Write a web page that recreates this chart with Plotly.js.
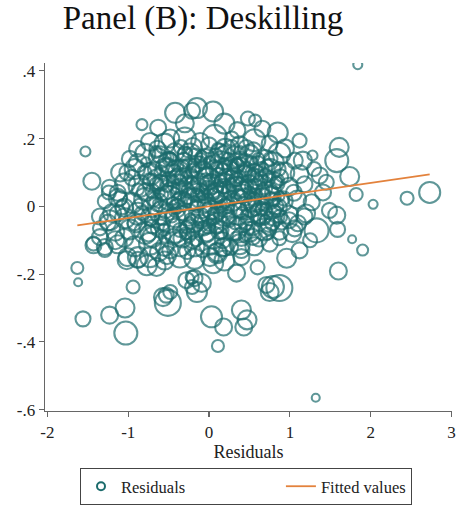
<!DOCTYPE html>
<html><head><meta charset="utf-8">
<script src="https://cdn.plot.ly/plotly-3.0.1.min.js"></script>
<style>html,body{margin:0;padding:0;background:#fff}#chart{width:456px;height:506px}</style>
</head><body><div id="chart"></div>
<script>
// Residual (x) values
const resX = [
 1.84,1.32,-1.53,-1.45,-1.63,-1.62,-1.56,-1.23,-1.04,-1.03,
 -0.94,-0.51,-0.53,-0.21,-0.09,-0.15,0.03,0.18,0.11,0.34,
 0.40,0.47,0.43,0.79,0.75,0.87,0.96,1.60,1.77,1.90,
 1.61,1.58,1.74,1.45,1.82,2.03,2.45,2.73,1.49,1.58,1.59,
 -0.42,-0.21,-0.15,0.05,0.19,0.48,0.28,0.66,0.85,-0.63,-0.83,-0.48,-0.89,0.57,0.94,1.16,1.28,1.37,1.41,1.12,-0.30,0.35,
 -1.43,-1.35,-1.29,-1.16,-1.23,-1.13,-1.07,-1.02,-0.88,-0.77,-0.65,-0.52,-0.28,-0.21,-0.57,-0.48,-1.24,-1.10,-1.01,
 0.99,1.20,1.33,0.87,1.03,0.17,0.40,0.10,0.05,-0.18,0.71,1.12,1.25,0.60,
 -0.73,-0.55,-0.30,-0.11,0.07,0.38,0.56,0.75,
 -0.98,-0.79,-0.61,-0.42,-0.24,-0.05,0.13,0.32,0.50,0.69,0.87,1.06,
 -1.10,-0.92,-0.73,-0.55,-0.39,-0.24,-0.09,0.07,0.23,0.38,0.56,0.75,0.93,1.12,1.30,
 -1.23,-1.04,-0.86,-0.71,-0.55,-0.39,-0.24,-0.11,0.03,0.19,0.35,0.50,0.65,0.81,0.99,1.18,
 -1.29,-1.13,-0.95,-0.79,-0.63,-0.49,-0.34,-0.18,-0.03,0.13,0.28,0.44,0.60,0.75,0.91,1.09,1.27,
 -1.35,-1.20,-1.04,-0.88,-0.73,-0.58,-0.42,-0.26,-0.11,0.03,0.19,0.35,0.50,0.65,0.81,0.99,1.18,
 -1.35,-1.16,-0.98,-0.79,-0.61,-0.42,-0.24,-0.05,0.13,0.32,0.50,0.69,0.87,1.06,
 -1.43,-1.29,-1.13,-0.92,-0.73,-0.55,-0.36,-0.18,0.01,0.19,0.38,0.56,0.75,
 -1.01,-0.88,-0.73,-0.55,-0.36,-0.18,0.01,0.19,0.40,
 -0.64,-0.2,0.2,0.46, -0.88,-0.5,-0.15,0.15,0.45,0.8, -0.95,-0.64,-0.32,-0.01,0.3,0.6,0.88,
 -1.13,-0.78,-0.47,-0.16,0.11,0.42,0.72,1.05, -1.05,-0.7,-0.4,-0.1,0.2,0.52,0.85,
 -1.25,-0.9,-0.5,-0.18,0.1,0.42,0.75,1.1, -1.05,-0.7,-0.33,0.05,0.4,0.62, -0.62,-0.27,0.1,
 -0.68,-0.60,-0.57,-0.52,-0.45,-0.44,-0.40,-0.37,-0.33,-0.31,
 -0.28,-0.25,-0.22,-0.20,-0.17,-0.15,-0.13,-0.10,-0.07,-0.05,
 -0.03,0.00,0.02,0.05,0.07,0.09,0.12,0.14,0.17,0.19,
 0.21,0.24,0.26,0.29,0.31,0.34,0.37,0.39,0.42,0.45,
 0.48,0.51,0.54,0.57,0.60,0.63,0.66,0.70,0.74,0.78,
 0.82,0.86,0.90,-0.75,-0.80,-0.85,-0.62,-0.48,-0.35,0.00,
 0.28,0.55,-0.08,0.26,-0.92,-0.58,0.12,0.45,-0.25,0.70,
 -0.88,-0.83,-0.78,-0.74,-0.70, -0.66,-0.63,-0.59,-0.55,-0.52, -0.49,-0.46,-0.42,-0.39,-0.36,
 -0.34,-0.30,-0.27,-0.24,-0.21, -0.18,-0.16,-0.12,-0.09,-0.06, -0.04,-0.01,0.01,0.04,0.06,
 0.09,0.11,0.15,0.18,0.20, 0.23,0.25,0.28,0.30,0.33, 0.36,0.38,0.41,0.44,0.47,
 0.49,0.53,0.56,0.59,0.62, 0.65,0.68,0.72,0.76,0.80, 0.84,0.88,
 -0.70,-0.45,-0.20,0.05,0.30,0.55,0.80, -0.60,-0.30,0.0,0.35,0.65, -0.40,-0.10,0.20,0.50,
 -0.72,-0.67,-0.61,-0.56,-0.50,-0.47,-0.41,-0.38,-0.32,-0.29,
 -0.26,-0.19,-0.14,-0.11,-0.08,-0.02,0.03,0.08,0.10,0.13,
 0.16,0.22,0.27,0.32,0.35,0.40,0.43,0.46,0.52,0.58,
 0.61,0.64,0.69,0.73,0.77,0.83,0.87,-0.54,-0.36,-0.15,
 0.05,0.25,0.47,0.67,-0.65,-0.43,-0.23,-0.02,0.18,0.38,
 0.58,0.78,-0.50,-0.28,-0.06,0.14,0.34,0.54,0.74,0.92
];
// Deskilling residual (y) values
const resY = [
 0.418,-0.565,0.162,0.074,-0.182,-0.224,-0.332,-0.321,-0.30,-0.374,
 -0.238,-0.285,-0.262,-0.209,-0.226,-0.253,-0.326,-0.356,-0.412,-0.197,
 -0.306,-0.335,-0.356,-0.238,-0.253,-0.241,-0.153,-0.191,-0.097,-0.129,
 0.174,0.135,0.088,0.071,0.035,0.006,0.024,0.041,-0.012,-0.026,-0.068,
 0.276,0.282,0.29,0.28,0.244,0.259,0.20,0.229,0.218,0.232,0.241,0.20,0.17,0.253,0.171,0.135,0.15,0.091,0.041,0.194,0.245,0.225,
 -0.115,-0.091,-0.129,-0.10,-0.041,-0.021,-0.003,-0.159,-0.15,-0.174,-0.179,-0.144,-0.218,-0.238,-0.268,-0.253,0.041,0.024,0.10,
 -0.041,-0.021,-0.071,-0.094,-0.079,-0.121,-0.129,-0.138,-0.168,-0.212,-0.232,-0.13,-0.10,-0.18,
 0.19,0.185,0.2,0.19,0.205,0.18,0.195,0.185,
 0.14,0.155,0.145,0.16,0.15,0.14,0.158,0.145,0.152,0.14,0.155,0.135,
 0.10,0.11,0.095,0.115,0.10,0.112,0.098,0.11,0.10,0.115,0.098,0.108,0.10,0.095,0.11,
 0.055,0.068,0.06,0.07,0.055,0.065,0.058,0.07,0.06,0.068,0.055,0.065,0.06,0.07,0.058,0.065,
 0.015,0.025,0.01,0.022,0.012,0.025,0.015,0.02,0.01,0.025,0.015,0.02,0.01,0.025,0.015,0.02,0.012,
 -0.03,-0.02,-0.035,-0.022,-0.03,-0.02,-0.032,-0.025,-0.03,-0.02,-0.028,-0.022,-0.03,-0.02,-0.028,-0.025,-0.03,
 -0.065,-0.075,-0.068,-0.078,-0.065,-0.072,-0.068,-0.075,-0.07,-0.065,-0.075,-0.068,-0.072,-0.065,
 -0.11,-0.12,-0.112,-0.118,-0.11,-0.12,-0.112,-0.118,-0.11,-0.12,-0.112,-0.118,-0.11,
 -0.15,-0.158,-0.15,-0.16,-0.148,-0.155,-0.15,-0.16,-0.15,
 0.17,0.175,0.17,0.172, 0.128,0.13,0.125,0.13,0.128,0.13, 0.084,0.08,0.086,0.082,0.085,0.08,0.086,
 0.04,0.042,0.038,0.04,0.042,0.038,0.04,0.04, -0.004,-0.002,-0.006,-0.003,-0.005,-0.002,-0.004,
 -0.048,-0.05,-0.046,-0.05,-0.048,-0.05,-0.046,-0.05, -0.093,-0.09,-0.095,-0.092,-0.09,-0.095, -0.135,-0.132,-0.136,
 0.02,0.07,-0.05,0.12,0.01,-0.09,0.09,0.045,-0.02,0.135,
 -0.06,0.03,0.09,-0.10,0.15,0.0,0.06,-0.045,0.11,0.03,
 -0.08,0.075,-0.015,0.13,0.045,-0.06,0.09,0.0,-0.10,0.16,
 0.05,-0.03,0.115,0.02,-0.075,0.08,-0.01,0.14,0.05,-0.05,
 0.095,0.0,-0.09,0.06,0.125,-0.03,0.03,0.09,-0.06,0.04,
 0.0,0.11,-0.045,-0.08,0.10,0.0,0.15,-0.13,0.175,0.18,
 0.175,0.165,-0.13,-0.12,-0.05,0.035,0.025,0.02,-0.085,-0.01,
 0.05,-0.02,0.13,0.08,-0.06, 0.16,0.01,0.10,-0.09,0.06, 0.14,-0.03,0.04,0.12,-0.07,
 0.09,0.02,0.16,-0.05,0.07, 0.12,-0.10,0.03,0.15,0.0, 0.08,-0.06,0.13,0.05,-0.02,
 0.11,0.17,-0.08,0.06,0.01, 0.14,-0.04,0.09,0.12,-0.09, 0.03,0.16,-0.02,0.10,0.06,
 -0.07,0.13,0.02,0.08,-0.04, 0.11,0.05,-0.08,0.14,0.02, 0.07,-0.03,
 0.045,0.075,0.105,0.035,0.065,0.095,-0.015, -0.035,0.155,-0.055,0.12,-0.01, 0.0,0.14,0.09,0.04,
 -0.04,0.11,0.04,-0.07,0.08,0.14,-0.01,0.06,0.12,-0.08,
 0.05,0.01,-0.06,0.13,0.04,0.10,-0.04,0.15,0.06,-0.02,
 0.11,0.0,0.07,-0.05,0.12,0.03,-0.09,0.11,0.06,-0.01,
 0.14,0.08,-0.04,0.12,0.02,0.07,0.03,-0.015,0.025,0.035,
 -0.035,0.045,-0.025,0.005,0.065,0.105,-0.035,0.055,0.125,0.085,
 0.035,-0.05,0.145,0.085,-0.065,0.075,0.13,-0.065,0.08,0.02
];
// Weights (marker diameters)
const resW = [
 9,8,10,17,12,8,15,17,19,23,
 13,26,15,13,18,20,21,17,12,17,
 19,19,17,22,18,26,19,17,8,11,
 19,23,19,15,13,9,13,21,15,17,15,
 20,16,20,20,20,14,14,16,20,16,11,18,16,12,18,18,10,16,16,14,18,16,
 16,16,14,18,20,16,14,18,20,20,18,18,16,14,18,14,14,14,16,
 16,18,24,14,18,18,16,20,20,16,16,16,14,14,
 18,20,22,18,24,18,22,16,
 16,20,22,18,24,20,18,22,20,18,22,16,
 18,20,22,18,24,20,22,18,24,20,18,22,20,18,14,
 16,20,22,18,24,20,22,18,24,20,22,18,22,20,18,16,
 14,18,20,22,18,24,20,22,18,24,20,22,18,22,20,18,16,
 16,18,20,22,18,24,20,22,18,24,20,22,18,22,20,18,16,
 14,18,20,22,18,24,20,22,18,24,20,22,18,16,
 14,16,18,20,22,18,24,20,22,18,20,18,16,
 18,16,20,18,22,20,18,20,16,
 16,18,20,16, 18,20,16,22,18,20, 16,20,18,22,18,20,16,
 16,18,22,18,20,18,22,16, 18,20,18,22,18,20,18,
 16,18,22,18,20,18,20,16, 18,20,18,22,18,16, 18,16,18,
 14,16,14,16,12,16,14,16,14,16,
 12,16,14,16,14,12,16,14,16,14,
 16,12,16,14,16,14,16,12,16,14,
 16,14,16,12,16,14,16,14,16,14,
 16,12,16,14,16,14,16,14,16,14,
 16,14,16,16,14,16,14,16,14,16,
 14,16,14,16,14,12,12,12,14,12,
 12,14,10,12,14, 12,10,14,12,12, 14,12,10,12,14,
 12,14,10,12,12, 14,12,12,10,14, 12,14,12,10,12,
 14,12,12,14,10, 12,14,12,12,10, 14,12,12,14,12,
 10,12,14,12,12, 14,10,12,14,12, 12,14,
 14,12,14,12,14,12,14, 12,14,12,14,12, 14,12,14,12,
 12,14,10,12,14,12,10,14,12,12,
 12,14,10,12,14,12,10,14,12,12,
 12,14,10,12,14,12,10,14,12,12,
 12,14,10,12,14,12,10,14,12,12,
 12,14,10,12,14,12,10,14,12,12,
 12,14,10,12,14,12,10,14,12,12
];
// Fitted line parameters
const fitIntercept = 0.0;
const fitSlope = 0.0345;

const xTickVals = [-2,-1,0,1,2,3];
const xTickText = ['-2','-1','0','1','2','3'];
const yTickVals = [-0.6,-0.4,-0.2,0,0.2,0.4];
const yTickText = ['-.6','-.4','-.2','0','.2','.4'];
const legendNames = ['Residuals', 'Fitted values'];

const TEAL = '#1b6b6c';
const ORANGE = '#e3823c';
const SERIF = 'Liberation Serif';

const xmin = Math.min(...resX), xmax = Math.max(...resX);
const fitX = [xmin, xmax];
const fitY = fitX.map(v => fitIntercept + fitSlope * v);
const pad = '\u00a0'.repeat(22);

const traces = [
  {type:'scatter', mode:'markers', x:resX, y:resY, showlegend:false, hoverinfo:'skip',
   marker:{symbol:'circle-open', size:resW, color:TEAL, line:{width:2.1, color:TEAL}}},
  {type:'scatter', mode:'lines', x:fitX, y:fitY, name:legendNames[1], legendrank:2,
   line:{color:ORANGE, width:1.8}},
  {type:'scatter', mode:'markers', x:[null], y:[null], name:legendNames[0] + pad, legendrank:1,
   marker:{symbol:'circle-open', size:8, color:TEAL, line:{width:2, color:TEAL}}}
];

const axisCommon = {showline:true, linecolor:'#666', linewidth:1.4, ticks:'outside', ticklen:5,
  tickcolor:'#666', tickwidth:1.2, showgrid:false, zeroline:false,
  tickfont:{family:SERIF, size:17, color:'#222'}};

const layout = {
  width:456, height:506, paper_bgcolor:'#fff', plot_bgcolor:'#fff',
  font:{family:SERIF},
  margin:{l:45, r:4, t:63, b:95},
  title:{text:'Panel (B): Deskilling', font:{family:SERIF, size:33, color:'#111'},
    xref:'container', x:203/456, xanchor:'center', yref:'container', y:1-6/506, yanchor:'top'},
  xaxis:Object.assign({}, axisCommon, {range:[-2.03,3.006], tickvals:xTickVals, ticktext:xTickText,
    title:{text:'Residuals', font:{family:SERIF, size:18, color:'#222'}, standoff:4}}),
  yaxis:Object.assign({}, axisCommon, {range:[-0.604,0.423], tickvals:yTickVals, ticktext:yTickText}),
  showlegend:true,
  legend:{orientation:'h', xref:'container', yref:'container', x:80/456, xanchor:'left',
    y:(506-468)/506, yanchor:'top', bordercolor:'#444', borderwidth:1, bgcolor:'#fff',
    font:{family:SERIF, size:16.5, color:'#222'}, traceorder:'normal'}
};

Plotly.newPlot('chart', traces, layout, {staticPlot:true, displayModeBar:false});
</script>
</body></html>
